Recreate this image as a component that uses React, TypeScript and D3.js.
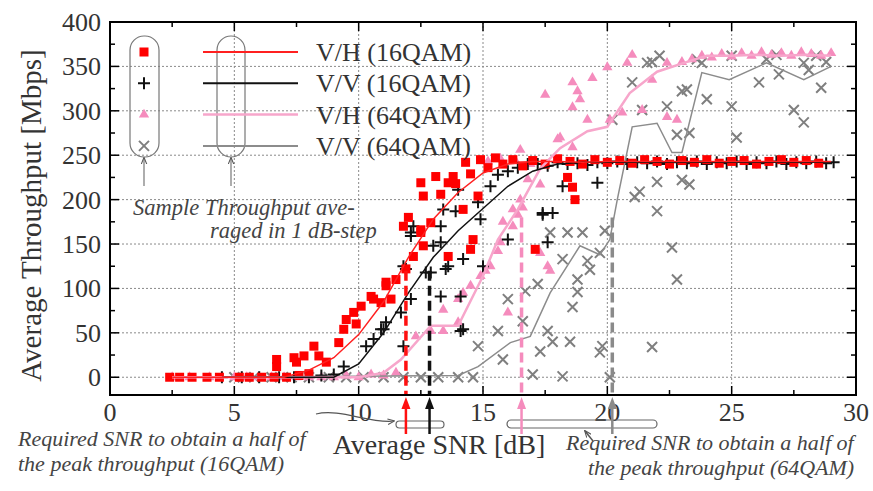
import * as d3 from 'd3';

// V/H (16QAM) samples - red squares
const vh16Pts: [number, number][] = [
  [2.4, 0], [2.8, 0], [3.3, 0], [3.9, 0], [4.4, 0], [5.2, 0], [5.6, 0], [6.1, 0], [6.6, 0], [7.1, 0], [7.6, 2], [8, 4],
  [6.7, 20], [6.7, 12], [7.4, 22], [7.5, 17], [7.8, 24], [8.2, 35], [8.4, 24], [8.7, 17], [9.2, 39], [9.4, 54],
  [9.5, 65], [9.8, 73], [9.9, 60], [10.1, 80], [10.5, 91], [10.6, 88], [10.9, 84], [11.1, 103], [11.1, 107],
  [11.3, 88], [11.5, 110], [11.9, 122], [11.8, 170], [12.0, 180], [12.2, 136], [12.5, 163], [12.5, 166],
  [12.6, 148], [12.6, 204], [12.5, 219], [12.9, 174], [13.1, 226], [13.3, 206], [13.6, 219], [13.6, 136],
  [13.8, 226], [13.9, 218], [14.2, 189], [14.3, 242], [14.5, 229], [14.5, 144], [14.6, 155], [14.8, 204],
  [14.9, 245], [15.2, 236], [15.5, 247], [15.8, 240], [16.2, 245], [16.6, 238], [17.1, 144], [17.0, 244],
  [17.5, 240], [18.0, 246], [18.4, 225], [18.6, 214], [18.7, 200], [18.5, 243], [19, 240], [19.5, 245],
  [20, 242], [20.5, 244], [21, 241], [21.5, 245], [22, 243], [22.5, 240], [23, 244], [23.5, 242], [24, 245],
  [24.5, 241], [25, 243], [25.5, 244], [26, 240], [26.5, 243], [27, 245], [27.5, 242], [28, 244], [28.5, 241],
];

// V/V (16QAM) samples - black plus
const vv16Pts: [number, number][] = [
  [4.5, 0], [5.3, 0], [6, 0], [6.8, 0], [7.4, 0], [8, 0], [8.5, 2], [9, 3], [9.4, 12],
  [10.3, 35], [10.6, 43], [10.9, 54], [11, 54], [11.1, 62], [11.7, 73], [11.8, 35], [12.1, 88], [11.8, 125],
  [11.9, 122], [12.1, 159], [12.1, 163], [12.2, 170], [12.7, 118], [12.9, 118], [13, 148], [13.3, 170],
  [13.3, 152], [13.3, 91], [13.4, 189], [13.5, 122], [13.6, 125], [13.9, 187], [14, 211], [14.1, 91],
  [14.1, 52], [14.2, 54], [14.2, 133], [14.8, 197], [14.9, 178], [15, 125], [15.3, 215], [15.6, 228],
  [16, 155], [16, 232], [16.4, 236], [16.8, 240], [17.4, 185], [17.4, 183], [17.6, 152], [17.8, 185],
  [17.2, 240], [17.6, 238], [18.2, 215], [18.0, 242], [18.4, 240], [18.8, 241], [19.2, 239], [19.6, 219],
  [19.6, 242], [20, 241], [20.4, 243], [20.8, 240], [21.2, 242], [21.6, 241], [22, 243], [22.4, 240],
  [22.8, 242], [23.2, 241], [23.6, 243], [24, 240], [24.4, 242], [24.8, 241], [25.2, 243], [25.6, 240],
  [26, 242], [26.4, 241], [26.8, 243], [27.2, 240], [27.6, 242], [28, 241], [28.4, 243], [28.8, 241], [29.1, 242],
];

// V/H (64QAM) samples - pink triangles
const vh64Pts: [number, number][] = [
  [2.5, 0], [3.2, 0], [4, 0], [5, 0], [5.5, 0], [6, 0], [6.5, 0], [7, 0], [7.5, 0], [8, 0], [8.5, 0], [9, 0],
  [9.5, 2], [10, 0], [10.5, 3], [11, 2], [11.5, 5],
  [12.3, 46], [12.9, 52], [13.4, 52], [13.4, 76], [14, 62], [14, 88], [14.2, 95], [14.5, 103], [14.9, 114],
  [15.1, 120], [15.3, 125], [15.6, 142], [15.7, 152], [15.8, 175], [16, 73], [16.2, 170], [16.2, 189],
  [16.4, 183], [16.5, 200], [16.5, 256], [16.6, 191], [16.8, 223], [16.9, 240], [17.3, 140], [17.3, 217],
  [17.5, 318], [17.6, 125], [17.7, 120], [18, 268], [18.1, 270], [18.6, 259], [18.6, 304], [18.6, 332],
  [18.8, 322], [18.9, 313], [19.2, 290], [19.4, 337], [20, 349], [20.1, 290], [20.6, 298], [20.8, 354],
  [21, 363], [21.4, 301], [21.8, 335], [22.4, 293], [22.4, 354], [22.8, 290], [23, 355], [23.4, 358],
  [23.8, 362], [24.2, 360], [24.6, 364], [25, 361], [25.4, 365], [25.8, 362], [26.2, 366], [26.6, 363],
  [27, 365], [27.4, 362], [27.8, 366], [28.2, 364], [28.6, 362], [29, 365],
  [15.2, 243], [15.7, 246], [16.3, 244], [16.9, 240],
];

// V/V (64QAM) samples - gray crosses
const vv64Pts: [number, number][] = [
  [5, 0], [5.8, 0], [6.5, 0], [7.3, 0], [8, 0], [8.8, 0], [9.5, 0], [10.2, 0], [11, 0], [11.8, 0], [12.5, 0],
  [13.2, 0], [14, 0], [14.6, 0],
  [14.8, 35], [15.6, 52], [15.8, 20], [16, 88], [16.6, 63], [16.7, 97], [17, 3], [17.2, 105], [17.3, 29],
  [17.6, 52], [17.7, 163], [17.8, 40], [18.2, 1], [18.2, 133], [18.4, 163], [18.5, 40], [18.6, 79], [18.8, 96],
  [18.8, 110], [19, 163], [19.2, 131], [19.3, 121], [19.7, 140], [19.7, 28], [19.8, 35], [19.9, 165], [20.1, 0],
  [20.2, 290], [21, 332], [21.1, 203], [21.3, 209], [21.4, 301], [21.6, 354], [21.8, 355], [21.8, 34],
  [22, 187], [22, 220], [22.1, 362], [22.4, 305], [22.6, 146], [22.8, 110], [22.8, 273], [23, 322], [23, 222],
  [23.2, 324], [23.3, 275], [23.3, 217], [23.6, 358], [23.8, 354], [24, 313], [25, 305], [25, 362], [25.2, 270],
  [26.1, 332], [26.4, 358], [26.8, 363], [26.9, 341], [27.5, 301], [27.9, 287], [27.9, 354], [28.1, 346],
  [28.4, 362], [28.6, 326], [28.8, 355],
];

// 1 dB-step averages
const vh16Line: [number, number][] = [
  [2.5, 0], [7, 0], [8, 8], [9, 22], [10, 48], [11, 85], [12, 135], [13, 178], [14, 208], [15, 230], [16, 240],
  [17, 243], [18, 243], [19, 242], [20, 243], [21, 243], [22, 243], [23, 243], [24, 243], [25, 243], [26, 243],
  [27, 243], [28, 243], [29, 243],
];
const vv16Line: [number, number][] = [
  [4.5, 0], [9, 0], [10, 15], [11, 50], [12, 95], [13, 135], [14, 165], [15, 190], [16, 215], [17, 232],
  [18, 240], [19, 242], [20, 242], [21, 242], [22, 242], [23, 242], [24, 242], [25, 242], [26, 242], [27, 242],
  [28, 242], [29, 242],
];
const vh64Line: [number, number][] = [
  [2.5, 0], [10, 0], [11, 5], [11.7, 20], [12.9, 58], [14, 58], [15, 114], [15.6, 155], [16.4, 189],
  [17.3, 235], [18.1, 258], [19.2, 277], [20, 282], [20.9, 320], [22, 344], [23.3, 356], [24, 362], [25, 362],
  [26, 363], [27, 362], [28, 363], [29, 362],
];
const vv64Line: [number, number][] = [
  [5, 0], [14, 2], [14.8, 12], [16.1, 39], [16.9, 46], [17.7, 95], [18.9, 148], [19.7, 138], [20.1, 155],
  [20.4, 200], [21, 282], [22, 286], [22.6, 253], [23, 253], [23.8, 343], [24.9, 335], [26.4, 354],
  [27.9, 335], [29, 350],
];

// required SNR for half of peak throughput
const halfMarks = [
  { snr: 11.9, level: 120, color: '#ff1010' },
  { snr: 12.85, level: 120, color: '#111' },
  { snr: 16.55, level: 180, color: '#f58cbd' },
  { snr: 20.2, level: 180, color: '#8a8a8a' },
];

const legendNames = ['V/H (16QAM)', 'V/V (16QAM)', 'V/H (64QAM)', 'V/V (64QAM)'];
const xTicks = [0, 5, 10, 15, 20, 25, 30];
const yTicks = [0, 50, 100, 150, 200, 250, 300, 350, 400];

const RED = '#ff0000';
const BLACK = '#111111';
const PINK = '#f58cbd';
const PINK_LINE = '#f7a6cb';
const GRAY = '#7f7f7f';
const SERIF = '"Liberation Serif", "Times New Roman", serif';

export default function App() {
  const left = 110, right = 856, top = 22, bottom = 395;
  const x = d3.scaleLinear().domain([0, 30]).range([left, right]);
  const y = d3.scaleLinear().domain([-20, 400]).range([bottom, top]);
  const line = d3.line<[number, number]>().x(d => x(d[0])).y(d => y(d[1]));
  const tri = d3.symbol(d3.symbolTriangle, 46)()!;

  const minorX = d3.range(2.5, 30, 5);
  const minorY = d3.range(25, 400, 50);

  const square = (cx: number, cy: number, k: string | number) => (
    <rect key={k} x={cx - 4.5} y={cy - 4.5} width={9} height={9} fill={RED} />
  );
  const plus = (cx: number, cy: number, k: string | number) => (
    <path key={k} d={`M${cx - 6},${cy}H${cx + 6}M${cx},${cy - 6}V${cy + 6}`} stroke={BLACK} strokeWidth={2} />
  );
  const triangle = (cx: number, cy: number, k: string | number) => (
    <path key={k} d={tri} transform={`translate(${cx},${cy})`} fill={PINK} />
  );
  const cross = (cx: number, cy: number, k: string | number) => (
    <path key={k} d={`M${cx - 5},${cy - 5}L${cx + 5},${cy + 5}M${cx - 5},${cy + 5}L${cx + 5},${cy - 5}`}
      stroke={GRAY} strokeWidth={2} />
  );
  const markers = [square, plus, triangle, cross];
  const lineColors = ['#ff2020', BLACK, PINK_LINE, '#8c8c8c'];
  const lineWidths = [1.5, 1.5, 2.5, 1.5];

  return (
    <svg width={873} height={491} style={{ position: 'absolute', left: 0, top: 0, background: '#fff' }}
      fontFamily={SERIF}>
      <defs>
        <marker id="thin" viewBox="0 0 10 10" refX={9} refY={5} markerWidth={7} markerHeight={7}
          markerUnits="userSpaceOnUse" orient="auto">
          <path d="M0,1L10,5L0,9" fill="none" stroke="#555" strokeWidth={1.5} />
        </marker>
      </defs>

      {/* grid */}
      <g stroke="#8a8a8a" strokeWidth={1} strokeDasharray="2,2">
        {yTicks.slice(0, -1).map(t => <line key={'gy' + t} x1={left} x2={right} y1={y(t)} y2={y(t)} />)}
        {xTicks.slice(1, -1).map(t => <line key={'gx' + t} x1={x(t)} x2={x(t)} y1={top} y2={bottom} />)}
      </g>

      {/* samples */}
      <g>{vv64Pts.map((d, i) => cross(x(d[0]), y(d[1]), 'c' + i))}</g>
      <g>{vh64Pts.map((d, i) => triangle(x(d[0]), y(d[1]), 't' + i))}</g>
      <g>{vv16Pts.map((d, i) => plus(x(d[0]), y(d[1]), 'p' + i))}</g>
      <g>{vh16Pts.map((d, i) => square(x(d[0]), y(d[1]), 's' + i))}</g>

      {/* averaged lines */}
      <path d={line(vv64Line)!} fill="none" stroke={lineColors[3]} strokeWidth={lineWidths[3]} />
      <path d={line(vh64Line)!} fill="none" stroke={lineColors[2]} strokeWidth={lineWidths[2]} />
      <path d={line(vv16Line)!} fill="none" stroke={lineColors[1]} strokeWidth={lineWidths[1]} />
      <path d={line(vh16Line)!} fill="none" stroke={lineColors[0]} strokeWidth={lineWidths[0]} />

      {/* half-peak dashed verticals */}
      {halfMarks.map((m, i) => (
        <line key={'hm' + i} x1={x(m.snr)} x2={x(m.snr)} y1={y(m.level)} y2={bottom}
          stroke={m.color} strokeWidth={3.5} strokeDasharray="10,5" />
      ))}

      {/* frame & ticks */}
      <rect x={left} y={top} width={right - left} height={bottom - top} fill="none" stroke="#000" strokeWidth={2} />
      <g stroke="#000" strokeWidth={1.5}>
        {xTicks.map(t => <g key={'tx' + t}>
          <line x1={x(t)} x2={x(t)} y1={bottom} y2={bottom - 9} />
          <line x1={x(t)} x2={x(t)} y1={top} y2={top + 9} />
        </g>)}
        {minorX.map(t => <g key={'mx' + t}>
          <line x1={x(t)} x2={x(t)} y1={bottom} y2={bottom - 5} />
          <line x1={x(t)} x2={x(t)} y1={top} y2={top + 5} />
        </g>)}
        {yTicks.map(t => <g key={'ty' + t}>
          <line x1={left} x2={left + 9} y1={y(t)} y2={y(t)} />
          <line x1={right} x2={right - 9} y1={y(t)} y2={y(t)} />
        </g>)}
        {minorY.map(t => <g key={'my' + t}>
          <line x1={left} x2={left + 5} y1={y(t)} y2={y(t)} />
          <line x1={right} x2={right - 5} y1={y(t)} y2={y(t)} />
        </g>)}
      </g>

      {/* tick labels */}
      <g fontSize={26} fill="#333">
        {xTicks.map(t => <text key={'lx' + t} x={x(t)} y={421} textAnchor="middle">{t}</text>)}
        {yTicks.map(t => <text key={'ly' + t} x={101} y={y(t) + 9} textAnchor="end">{t}</text>)}
      </g>
      <text x={439} y={454} fontSize={28} textAnchor="middle" fill="#333">Average SNR [dB]</text>
      <text transform={`translate(41,${(top + 385) / 2 + 12}) rotate(-90)`} fontSize={29} textAnchor="middle"
        fill="#333">Average Throughput [Mbps]</text>

      {/* legend */}
      <rect x={130} y={36} width={29} height={121} rx={14} fill="none" stroke="#777" strokeWidth={1.2} />
      <rect x={217} y={36} width={28} height={121} rx={14} fill="none" stroke="#777" strokeWidth={1.2} />
      {legendNames.map((n, i) => {
        const ly = 52 + i * 31.3;
        return (
          <g key={'lg' + i}>
            {markers[i](144, ly, 'lm' + i)}
            <line x1={203} x2={298} y1={ly} y2={ly} stroke={lineColors[i]} strokeWidth={i === 2 ? 2.5 : 2} />
            <text x={316} y={ly + 9} fontSize={26} fill="#333">{n}</text>
          </g>
        );
      })}
      <line x1={144} x2={144} y1={186} y2={158} stroke="#777" strokeWidth={1.2} markerEnd="url(#thin)" />
      <line x1={231} x2={231} y1={186} y2={158} stroke="#777" strokeWidth={1.2} markerEnd="url(#thin)" />
      <g fontSize={22.5} fontStyle="italic" fill="#444">
        <text x={133} y={215}>Sample  Throughput ave-</text>
        <text x={210} y={238}>raged in 1 dB-step</text>
      </g>

      {/* bottom annotations */}
      <rect x={396} y={421} width={48} height={7} rx={3.5} fill="#fff" stroke="#666" strokeWidth={1.2} />
      <rect x={507} y={420} width={150} height={8} rx={4} fill="none" stroke="#666" strokeWidth={1.2} />
      {halfMarks.map((m, i) => {
        const cx = x(m.snr);
        return (
          <g key={'ar' + i}>
            <line x1={cx} x2={cx} y1={434} y2={404} stroke={m.color} strokeWidth={2.5} />
            <path d={`M${cx - 4.5},${409}L${cx},${397}L${cx + 4.5},${409}Z`} fill={m.color} />
          </g>
        );
      })}
      <path d="M316,414C340,408 370,424 394,421" fill="none" stroke="#555" strokeWidth={1.2} markerEnd="url(#thin)" />
      <line x1={593} x2={585} y1={441} y2={431} stroke="#555" strokeWidth={1.5} markerEnd="url(#thin)" />
      <g fontSize={22} fontStyle="italic" fill="#444">
        <text x={18} y={446}>Required SNR to obtain a half of</text>
        <text x={18} y={471}>the peak throughput (16QAM)</text>
        <text x={566} y={450}>Required SNR to obtain a half of</text>
        <text x={588} y={475}>the peak throughput (64QAM)</text>
      </g>
    </svg>
  );
}
